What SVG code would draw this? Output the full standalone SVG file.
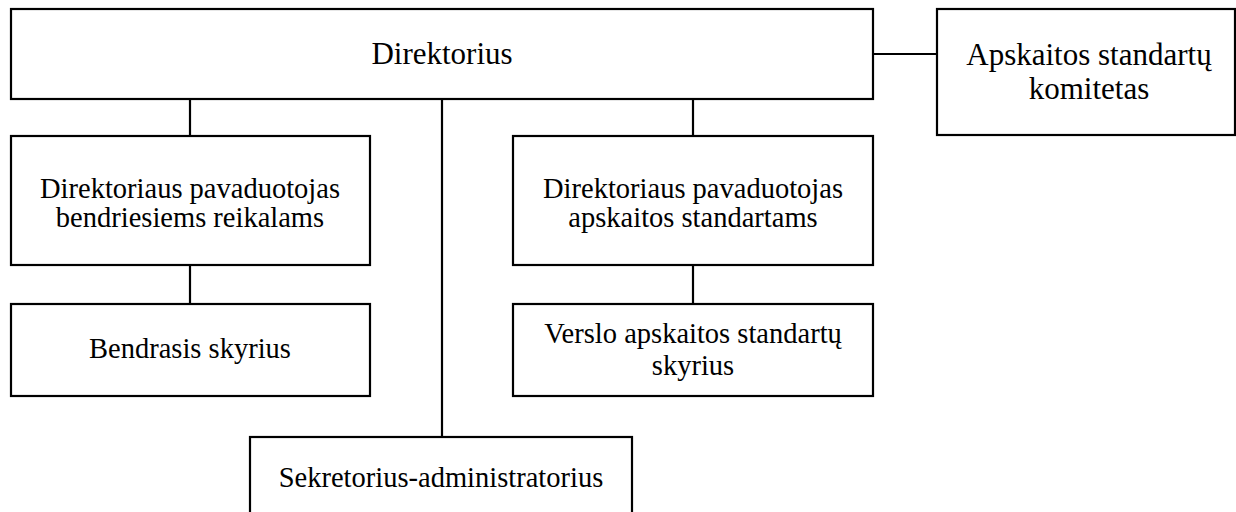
<svg xmlns="http://www.w3.org/2000/svg" width="1236" height="512" viewBox="0 0 1236 512">
<style>
.box{fill:#fff;stroke:#000;stroke-width:2.2}
.ln{stroke:#000;stroke-width:2.2;fill:none}
text{font-family:"Liberation Serif","Times New Roman",serif;fill:#000;text-anchor:middle}
.big{font-size:31px}
.sm{font-size:28.5px}
</style>
<rect width="1236" height="512" fill="#fff"/>
<g id="connectors">
<line class="ln" x1="873" y1="54" x2="937" y2="54"/>
<line class="ln" x1="190" y1="99" x2="190" y2="136"/>
<line class="ln" x1="693" y1="99" x2="693" y2="136"/>
<line class="ln" x1="442" y1="99" x2="442" y2="437"/>
<line class="ln" x1="190" y1="265" x2="190" y2="304"/>
<line class="ln" x1="693" y1="265" x2="693" y2="304"/>
</g>
<g id="direktorius">
<rect class="box" x="11" y="9" width="862" height="90"/>
<text class="big" x="442" y="64">Direktorius</text>
</g>
<g id="komitetas">
<rect class="box" x="937" y="9" width="298" height="126"/>
<text class="big" x="1089" y="65">Apskaitos standartų</text>
<text class="big" x="1089" y="99">komitetas</text>
</g>
<g id="pav-bendr">
<rect class="box" x="11" y="136" width="359" height="129"/>
<text class="sm" x="190" y="198">Direktoriaus pavaduotojas</text>
<text class="sm" x="190" y="227">bendriesiems reikalams</text>
</g>
<g id="pav-apsk">
<rect class="box" x="513" y="136" width="360" height="129"/>
<text class="sm" x="693" y="198">Direktoriaus pavaduotojas</text>
<text class="sm" x="693" y="227">apskaitos standartams</text>
</g>
<g id="bendrasis">
<rect class="box" x="11" y="304" width="359" height="92"/>
<text class="sm" x="190" y="358">Bendrasis skyrius</text>
</g>
<g id="verslo">
<rect class="box" x="513" y="304" width="360" height="92"/>
<text class="sm" x="693" y="343">Verslo apskaitos standartų</text>
<text class="sm" x="693" y="375">skyrius</text>
</g>
<g id="sekretorius">
<rect class="box" x="250" y="437" width="382" height="90"/>
<text class="sm" x="441" y="487">Sekretorius-administratorius</text>
</g>
</svg>
